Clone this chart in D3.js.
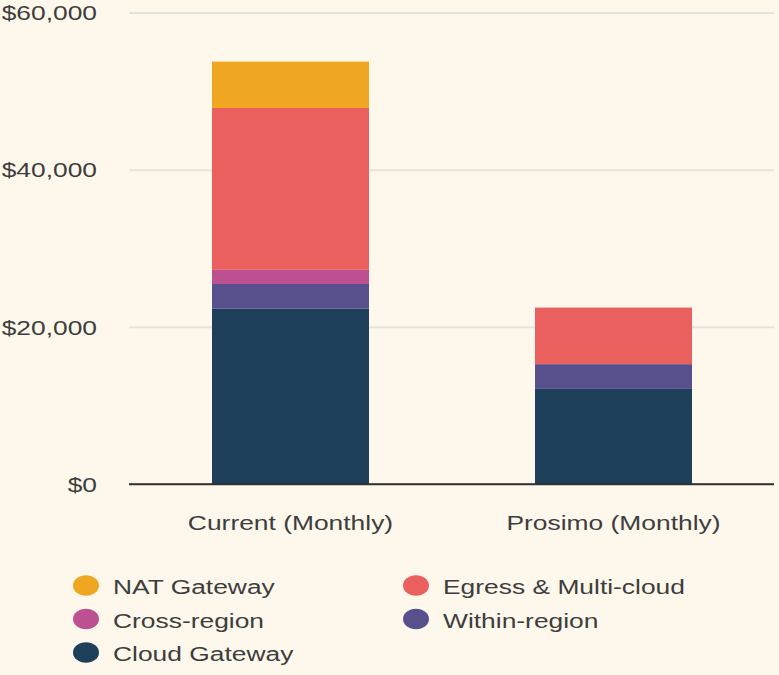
<!DOCTYPE html>
<html>
<head>
<meta charset="utf-8">
<script src="https://cdn.jsdelivr.net/npm/d3@7"></script>
<style>
  html, body { margin: 0; padding: 0; background: #FEF8EC; }
  svg { display: block; }
  text { font-family: "Liberation Sans", Arial, Helvetica, sans-serif; }
</style>
</head>
<body>
<svg id="chart" width="779" height="675"></svg>
<script>
// ---- data ----
const categories = ["Current (Monthly)", "Prosimo (Monthly)"];
const seriesNames = ["Cloud Gateway", "Within-region", "Cross-region", "Egress & Multi-cloud", "NAT Gateway"];
const cloudGateway = [22300, 12100];
const withinRegion = [3150, 3150];
const crossRegion = [1800, 0];
const egressMulticloud = [20600, 7200];
const natGateway = [5900, 0];
const yTicks = [0, 20000, 40000, 60000];
const legendOrder = ["NAT Gateway", "Egress & Multi-cloud", "Cross-region", "Within-region", "Cloud Gateway"];

const colors = {
  "Cloud Gateway": "#1E3F5A",
  "Within-region": "#58508D",
  "Cross-region": "#BC5090",
  "Egress & Multi-cloud": "#EA605E",
  "NAT Gateway": "#EFA620"
};

const seriesValues = {
  "Cloud Gateway": cloudGateway,
  "Within-region": withinRegion,
  "Cross-region": crossRegion,
  "Egress & Multi-cloud": egressMulticloud,
  "NAT Gateway": natGateway
};

const table = categories.map((c, i) => {
  const row = { category: c };
  seriesNames.forEach(s => row[s] = seriesValues[s][i]);
  return row;
});

// ---- layout ----
const SX = 1.32; // horizontal stretch of text
const textColor = "#3d3d3d";
const svg = d3.select("#chart");
const plotLeft = 129, plotRight = 775, plotTop = 12.5, plotBottom = 484;

const x = d3.scaleBand().domain(categories).range([plotLeft, plotRight])
  .paddingInner(0.514).paddingOuter(0.257);
const y = d3.scaleLinear().domain([0, 60000]).range([plotBottom, plotTop]);

// gridlines via axis
const gAxis = svg.append("g").attr("transform", `translate(${plotLeft},0)`)
  .call(d3.axisLeft(y).tickValues(yTicks).tickSize(-(plotRight - plotLeft - 1)).tickPadding(0)
    .tickFormat(d => "$" + d3.format(",")(d)));
gAxis.select(".domain").remove();
gAxis.selectAll(".tick line")
  .attr("stroke", d => d === 0 ? "#333" : "#E4E4DE")
  .attr("stroke-width", d => d === 0 ? 1.6 : 2);
gAxis.selectAll(".tick text")
  .attr("fill", textColor)
  .attr("font-size", 20)
  .attr("font-family", "Liberation Sans, Arial, sans-serif")
  .attr("x", -32 / SX)
  .attr("dy", "0.36em")
  .attr("transform", `scale(${SX},1)`);

// bars
const stack = d3.stack().keys(seriesNames);
const layers = stack(table);
svg.append("g").selectAll("g").data(layers).join("g")
  .attr("fill", d => colors[d.key])
  .selectAll("rect").data(d => d).join("rect")
  .attr("x", d => x(d.data.category))
  .attr("width", x.bandwidth())
  .attr("y", d => y(d[1]))
  .attr("height", d => y(d[0]) - y(d[1]));

// redraw baseline on top
svg.append("line")
  .attr("x1", plotLeft).attr("x2", plotRight - 1)
  .attr("y1", y(0)).attr("y2", y(0))
  .attr("stroke", "#333").attr("stroke-width", 1.6);

// category labels
svg.append("g").selectAll("text").data(categories).join("text")
  .attr("transform", d => `translate(${x(d) + x.bandwidth() / 2},530) scale(${SX},1)`)
  .attr("text-anchor", "middle")
  .attr("font-size", 20)
  .attr("fill", textColor)
  .text(d => d);

// legend
const legendCols = [86, 416];
const legendRows = [585.5, 619, 652.5];
const lg = svg.append("g").selectAll("g").data(legendOrder).join("g")
  .attr("transform", (d, i) => `translate(${legendCols[i % 2]},${legendRows[Math.floor(i / 2)]})`);
lg.append("ellipse")
  .attr("rx", 13).attr("ry", 10.3)
  .attr("fill", d => colors[d]);
lg.append("text")
  .attr("transform", `translate(27,8.5) scale(${SX},1)`)
  .attr("font-size", 20)
  .attr("fill", textColor)
  .text(d => d);
</script>
</body>
</html>
